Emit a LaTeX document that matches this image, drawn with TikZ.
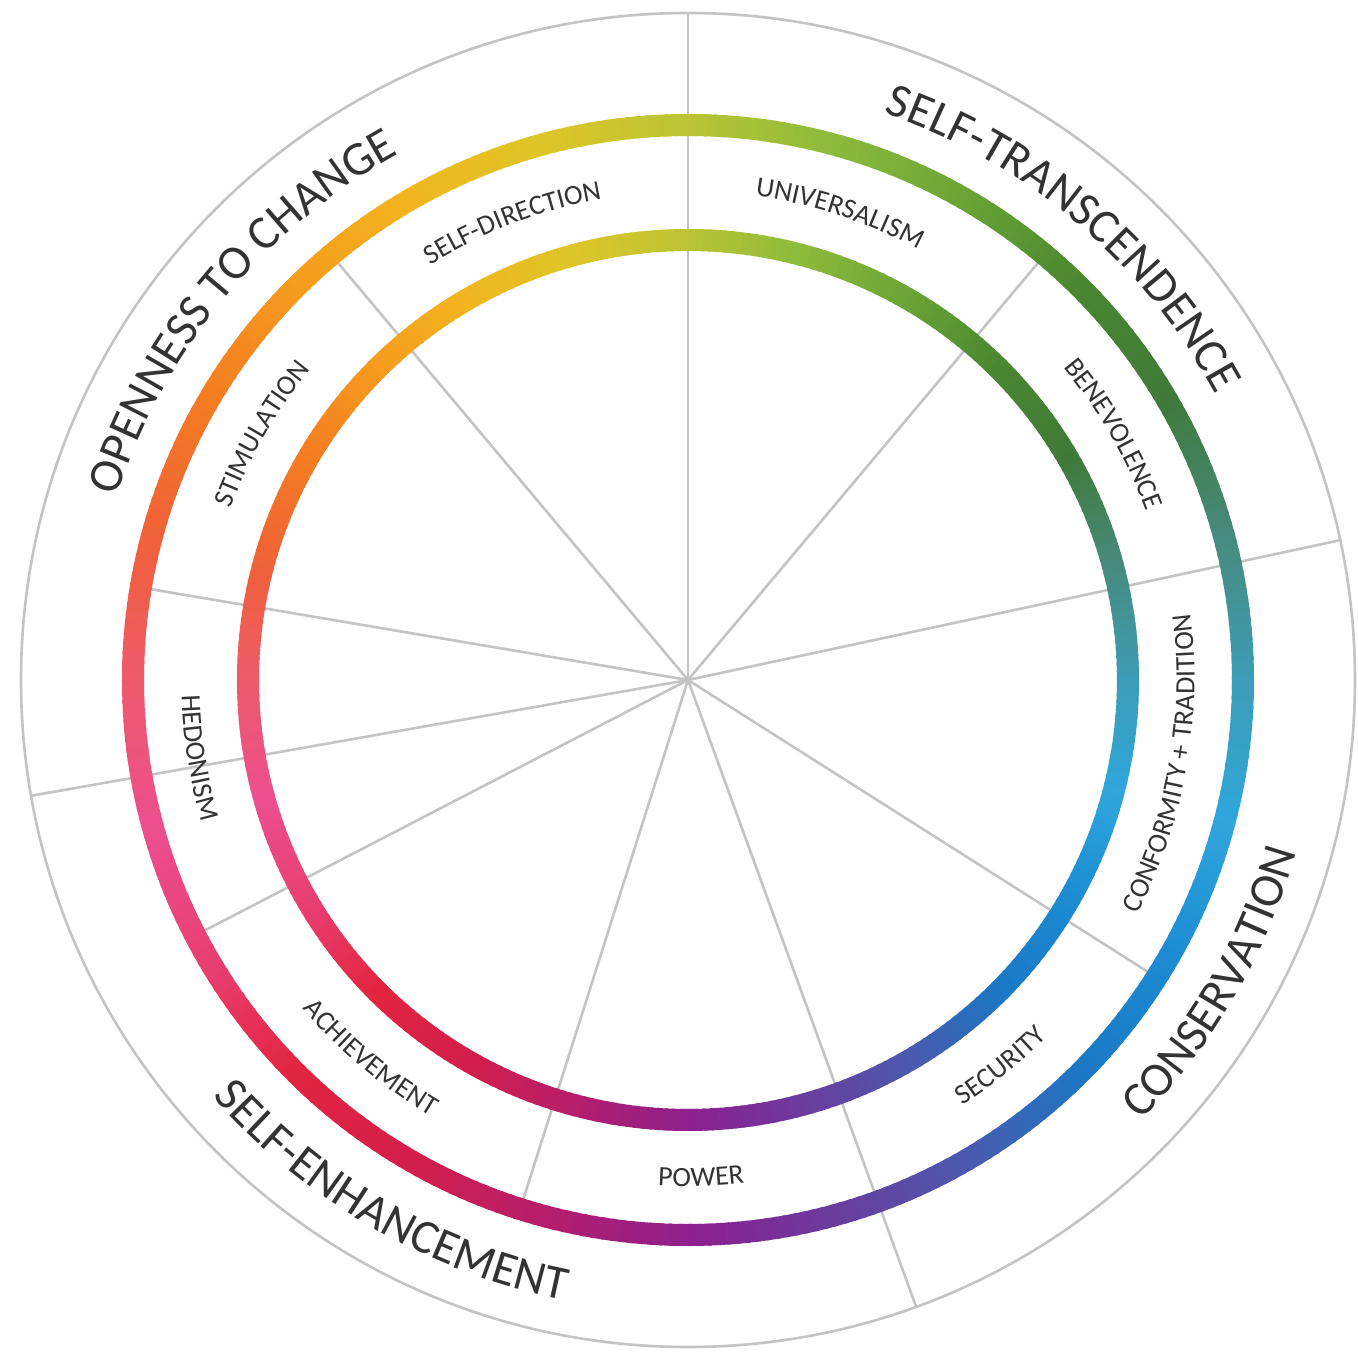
\documentclass[tikz,border=0pt]{standalone}
\usepackage{fontspec}
\setmainfont{Carlito}
\usetikzlibrary{decorations.text}
\newcommand\lblbig{\fontsize{48}{50}\selectfont}
\newcommand\lblsmall{\fontsize{28}{30}\selectfont}
\definecolor{st0}{HTML}{3C9CB4}
\definecolor{st1}{HTML}{478A7C}
\definecolor{st2}{HTML}{3F7A38}
\definecolor{st3}{HTML}{4A8730}
\definecolor{st4}{HTML}{6AA536}
\definecolor{st5}{HTML}{8DBB3C}
\definecolor{st6}{HTML}{BCC434}
\definecolor{st7}{HTML}{DEC628}
\definecolor{st8}{HTML}{F2B51E}
\definecolor{st9}{HTML}{F69A1E}
\definecolor{st10}{HTML}{F47B22}
\definecolor{st11}{HTML}{F0603A}
\definecolor{st12}{HTML}{EE5A6C}
\definecolor{st13}{HTML}{EC4E8E}
\definecolor{st14}{HTML}{E83F72}
\definecolor{st15}{HTML}{E2243E}
\definecolor{st16}{HTML}{D21E4C}
\definecolor{st17}{HTML}{B41E6C}
\definecolor{st18}{HTML}{8C2090}
\definecolor{st19}{HTML}{6A3C9E}
\definecolor{st20}{HTML}{4A5AAE}
\definecolor{st21}{HTML}{1A78C4}
\definecolor{st22}{HTML}{1C8CD2}
\definecolor{st23}{HTML}{30A6DC}
\definecolor{linegray}{HTML}{C4C4C4}
\definecolor{txtc}{HTML}{333333}
\begin{document}
\begin{tikzpicture}[x=1pt,y=1pt,
  spoke/.style={draw=linegray, line width=2.6pt},
  rim/.style={draw=linegray, line width=2.6pt},
  biglbl/.style={decorate, decoration={text along path, text align=center, text color=txtc, text={|\lblbig|#1}}},
  smalllbl/.style={decorate, decoration={text along path, text align=center, text color=txtc, text={|\lblsmall|#1}}}]
\useasboundingbox[fill=white] (-688,-675) rectangle (670,680);
\coordinate (O) at (0,0);
% spokes
\foreach \a/\r/\n in {90/667/s1, 50/555/s2, 12.1/667/s3, 327.6/555/s4, 290/667/s5, 252.4/555/s6, 207.4/555/s7, 190/667/s8, 170.4/555/s9, 130/555/s10}{
  \coordinate (\n) at (\a:\r);
  \draw[spoke] (O) -- (\n);
}
% outer gray circle
\draw[rim] (O) circle[radius=667];
% gradient rings
\foreach \i in {0,...,23}{
  \pgfmathtruncatemacro\j{mod(\i+1,24)}
  \foreach \k in {0,...,14}{
    \pgfmathsetmacro\ang{15*\i+\k}
    \pgfmathsetmacro\pc{100*\k/15}
    \colorlet{segc}{st\j!\pc!st\i}
    \draw[line width=22pt, segc] (\ang:555) arc[start angle=\ang, end angle=\ang+1.4, radius=555];
    \draw[line width=22pt, segc] (\ang:440) arc[start angle=\ang, end angle=\ang+1.4, radius=440];
  }
}
% big labels
\path[biglbl={OPENNESS TO CHANGE}] (185.5:600) arc[start angle=185.5, end angle=95.5, radius=600];
\path[biglbl={SELF-TRANSCENDENCE}] (94.7:600) arc[start angle=94.7, end angle=4.7, radius=600];
\path[biglbl={CONSERVATION}] (285:632) arc[start angle=285, end angle=375, radius=632];
\path[biglbl={SELF-ENHANCEMENT}] (195:632) arc[start angle=195, end angle=285, radius=632];
% small labels
\path[smalllbl={SELF-DIRECTION}] (156:488.5) arc[start angle=156, end angle=66, radius=488.5];
\path[smalllbl={UNIVERSALISM}] (117:488.5) arc[start angle=117, end angle=27, radius=488.5];
\path[smalllbl={BENEVOLENCE}] (75:488.5) arc[start angle=75, end angle=-15, radius=488.5];
\path[smalllbl={STIMULATION}] (195:488.5) arc[start angle=195, end angle=105, radius=488.5];
\path[smalllbl={CONFORMITY + TRADITION}] (305:506.5) arc[start angle=305, end angle=395, radius=506.5];
\path[smalllbl={SECURITY}] (264:506.5) arc[start angle=264, end angle=354, radius=506.5];
\path[smalllbl={POWER}] (226.5:506.5) arc[start angle=226.5, end angle=316.5, radius=506.5];
\path[smalllbl={ACHIEVEMENT}] (185:506.5) arc[start angle=185, end angle=275, radius=506.5];
\path[smalllbl={HEDONISM}] (144:506.5) arc[start angle=144, end angle=234, radius=506.5];
\end{tikzpicture}
\end{document}
